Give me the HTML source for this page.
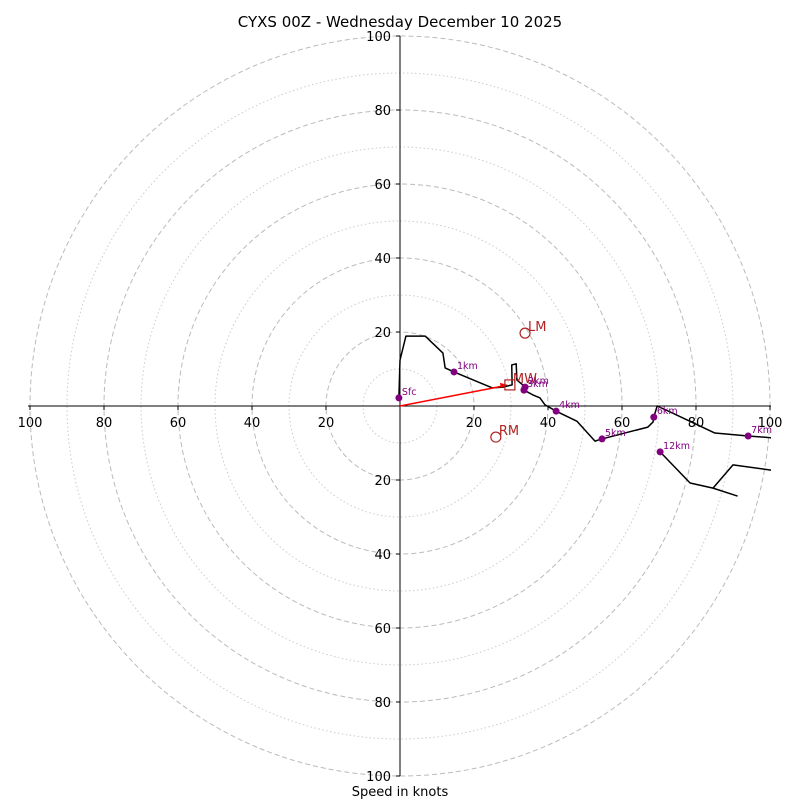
<!DOCTYPE html>
<html><head><meta charset="utf-8"><style>
body{margin:0;background:#fff;}
svg{display:block;font-family:"DejaVu Sans","Liberation Sans",sans-serif;}
</style></head><body>
<svg id="chart" width="800" height="800" viewBox="0 0 800 800"></svg>
<script>
// Hodograph data (knots): u and v components
const hodoU = [-0.3,0,1.6,6.8,11.6,12.2,14.6,24.9,27.8,30.3,30.2,31.4,31.6,33.2,33.8,33.5,35.9,37.8,39.2,42.2,47.8,52.7,54.6,67.0,68.4,68.6,69.5,73.0,85.1,94.1,108.1,108.1,90.0,84.6,91.1,84.6,78.4,70.3];
const hodoV = [2.2,12.4,18.9,18.9,14.3,10.3,9.2,4.9,5.1,5.7,11.1,11.4,7.0,5.7,5.1,4.3,3.0,2.2,0.3,-1.4,-4.1,-9.5,-8.9,-5.7,-4.3,-3.0,0,-1.6,-7.3,-8.1,-9.2,-18.4,-15.9,-22.2,-24.3,-22.2,-20.8,-12.4];
const markLabels = ["Sfc","1km","2km","3km","4km","5km","6km","7km","12km"];
const markU = [-0.3,14.6,33.8,33.5,42.2,54.6,68.6,94.1,70.3];
const markV = [2.2,9.2,5.1,4.3,-1.4,-8.9,-3.0,-8.1,-12.4];
const motionLabels = ["LM","RM","MW"];
const motionU = [33.8,25.9,29.7];
const motionV = [19.7,-8.4,5.7];
const ringValues = [10,20,30,40,50,60,70,80,90,100];
const tickValues = [20,40,60,80,100];

const svg = document.getElementById('chart');
const NS = 'http://www.w3.org/2000/svg';
const cx = 400, cy = 406, k = 3.7;
const sx = u => cx + u * k;
const sy = v => cy - v * k;
function mk(tag, attrs, parent) {
  const e = document.createElementNS(NS, tag);
  for (const a in attrs) e.setAttribute(a, attrs[a]);
  (parent || svg).appendChild(e);
  return e;
}
const defs = mk('defs', {});
const cp = mk('clipPath', {id: 'clip'}, defs);
mk('rect', {x: 28, y: 36, width: 743, height: 740}, cp);

ringValues.forEach(r => {
  const c = mk('circle', {cx: cx, cy: cy, r: r * k, fill: 'none',
    stroke: r % 20 === 0 ? '#bbb' : '#ccc', 'stroke-width': 1,
    'stroke-dasharray': r % 20 === 0 ? '5,3' : '1.5,2.5'});
  
  
});

let ax = mk('line', {x1: 28, y1: cy, x2: 771, y2: cy, stroke: '#000', 'stroke-width': 1});


ax = mk('line', {x1: cx, y1: 36, x2: cx, y2: 776, stroke: '#000', 'stroke-width': 1});



tickValues.forEach(t => {
  [-1, 1].forEach(s => {
    const x = sx(s * t);
    mk('line', {x1: x, y1: cy, x2: x, y2: cy + 4, stroke: '#000'});
    const tx = mk('text', {x: x, y: cy + 21, 'font-size': 13, 'text-anchor': 'middle'});
    tx.textContent = t;
    
    
    const y = sy(s * t);
    mk('line', {x1: cx - 4, y1: y, x2: cx, y2: y, stroke: '#000'});
    const ty = mk('text', {x: cx - 9, y: y + 5, 'font-size': 13, 'text-anchor': 'end'});
    ty.textContent = t;
    
    
  });
});

const g = mk('g', {'clip-path': 'url(#clip)'});
const pts = hodoU.map((u, i) => sx(u) + ',' + sy(hodoV[i])).join(' ');
const pl = mk('polyline', {points: pts, fill: 'none', stroke: '#000', 'stroke-width': 1.5, 'stroke-linejoin': 'round'}, g);



const ar = mk('line', {x1: cx, y1: cy, x2: sx(motionU[2]) - 6, y2: sy(motionV[2]) + 1, stroke: 'red', 'stroke-width': 1.5});


mk('polygon', {points: (sx(motionU[2]) - 2) + ',' + sy(motionV[2]) + ' ' + (sx(motionU[2]) - 10) + ',' + (sy(motionV[2]) - 2) + ' ' + (sx(motionU[2]) - 9) + ',' + (sy(motionV[2]) + 3), fill: 'red'});

motionLabels.forEach((lab, i) => {
  const x = sx(motionU[i]), y = sy(motionV[i]);
  let m;
  if (lab === 'MW') m = mk('rect', {x: x - 5, y: y - 5, width: 10, height: 10, fill: 'none', stroke: '#b22222', 'stroke-width': 1.2});
  else m = mk('circle', {cx: x, cy: y, r: 5, fill: 'none', stroke: '#b22222', 'stroke-width': 1.2});
  
  
  const t = mk('text', {x: x + 3, y: y - 2, 'font-size': 13, fill: '#b22222'});
  t.textContent = lab;
  
  
});

markLabels.forEach((lab, i) => {
  const x = sx(markU[i]), y = sy(markV[i]);
  const d = mk('circle', {cx: x, cy: y, r: 3.5, fill: 'purple'});
  
  
  const t = mk('text', {x: x + 3, y: y - 3, 'font-size': 9.5, fill: 'purple'});
  t.textContent = lab;
  
  
});

const ti = mk('text', {x: 400, y: 27, 'font-size': 15, 'text-anchor': 'middle'});
ti.textContent = 'CYXS 00Z - Wednesday December 10 2025';


const xl = mk('text', {x: 400, y: 796, 'font-size': 13, 'text-anchor': 'middle'});
xl.textContent = 'Speed in knots';


</script>
</body></html>
